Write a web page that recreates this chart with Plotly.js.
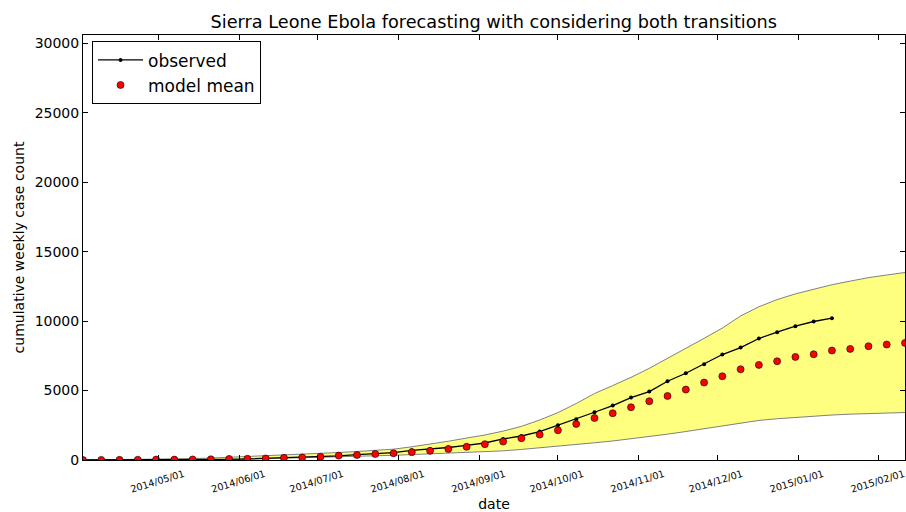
<!DOCTYPE html>
<html>
<head>
<meta charset="utf-8">
<script src="https://cdn.plot.ly/plotly-3.0.1.min.js"></script>
<style>
  html, body { margin: 0; padding: 0; background: #fff; }
  #chart { width: 906px; height: 512px; }
</style>
</head>
<body>
<div id="chart"></div>
<script>
const weeks = [
  '2014-04-02','2014-04-09','2014-04-16','2014-04-23','2014-04-30',
  '2014-05-07','2014-05-14','2014-05-21','2014-05-28',
  '2014-06-04','2014-06-11','2014-06-18','2014-06-25',
  '2014-07-02','2014-07-09','2014-07-16','2014-07-23','2014-07-30',
  '2014-08-06','2014-08-13','2014-08-20','2014-08-27',
  '2014-09-03','2014-09-10','2014-09-17','2014-09-24',
  '2014-10-01','2014-10-08','2014-10-15','2014-10-22','2014-10-29',
  '2014-11-05','2014-11-12','2014-11-19','2014-11-26',
  '2014-12-03','2014-12-10','2014-12-17','2014-12-24','2014-12-31',
  '2015-01-07','2015-01-14','2015-01-21','2015-01-28',
  '2015-02-04','2015-02-11'
];

const observed = [
  0, 0, 0, 0, 0, 0, 16, 30, 50,
  80, 120, 160, 200,
  240, 300, 380, 450, 530,
  700, 780, 900, 1050,
  1225, 1513, 1729, 2046,
  2500, 2932, 3437, 3919, 4496,
  4928, 5670, 6247, 6895,
  7594, 8098, 8747, 9201, 9633,
  9972, 10210
];

const modelMean = [
  0, 5, 10, 20, 30, 30, 40, 50, 80,
  90, 110, 155, 185,
  230, 317, 360, 432, 483,
  565, 660, 793, 950,
  1140, 1326, 1563, 1830,
  2140, 2594, 3026, 3365, 3797,
  4229, 4611, 5072, 5577,
  6031, 6535, 6845, 7111, 7421,
  7616, 7882, 7998, 8192,
  8314, 8430
];

const upperBound = [
  0, 10, 20, 30, 50, 70, 100, 140, 190,
  250, 320, 370, 420,
  480, 540, 610, 690, 780,
  950, 1130, 1350, 1580,
  1800, 2080, 2420, 2880,
  3413, 4063, 4784, 5360, 5950,
  6600, 7300, 8030, 8760,
  9500, 10370, 11030, 11550, 11960,
  12300, 12620, 12880, 13130,
  13320, 13500
];

const lowerBound = [
  0, 0, 0, 0, 5, 10, 15, 25, 40,
  60, 90, 120, 150,
  185, 220, 260, 300, 340,
  390, 440, 500, 540,
  576, 660, 760, 870,
  987, 1110, 1240, 1370, 1520,
  1680, 1860, 2050, 2250,
  2470, 2690, 2850, 2970, 3070,
  3170, 3240, 3300, 3350,
  3390, 3420
];

const yTicks = [0, 5000, 10000, 15000, 20000, 25000, 30000];

const traces = [
  {
    x: weeks, y: lowerBound, type: 'scatter', mode: 'lines',
    line: { color: '#808080', width: 1 }, showlegend: false, hoverinfo: 'skip'
  },
  {
    x: weeks, y: upperBound, type: 'scatter', mode: 'lines',
    fill: 'tonexty', fillcolor: 'rgba(255,255,0,0.5)',
    line: { color: '#808080', width: 1 }, showlegend: false, hoverinfo: 'skip'
  },
  {
    x: weeks.slice(0, observed.length), y: observed, type: 'scatter', mode: 'lines+markers',
    name: 'observed',
    line: { color: '#000000', width: 1.3 },
    marker: { color: '#000000', size: 4 }
  },
  {
    x: weeks, y: modelMean, type: 'scatter', mode: 'markers',
    name: 'model mean', cliponaxis: true,
    marker: { color: '#ff0000', size: 7, line: { color: '#000000', width: 0.6 } }
  }
];

const font = 'DejaVu Sans, sans-serif';

const layout = {
  width: 906, height: 512,
  margin: { l: 83, r: 1, t: 35, b: 52, pad: 0 },
  paper_bgcolor: '#ffffff', plot_bgcolor: '#ffffff',
  font: { family: font, color: '#000000', size: 14 },
  title: {
    text: 'Sierra Leone Ebola forecasting with considering both transitions',
    font: { family: font, size: 17.7, color: '#000000' },
    x: 0.545, xanchor: 'center', y: 0.957, yanchor: 'middle'
  },
  xaxis: {
    type: 'date',
    range: ['2014-04-02', '2015-02-11'],
    tick0: '2014-05-01', dtick: 'M1',
    tickformat: '%Y/%m/%d',
    tickangle: -17,
    tickfont: { family: font, size: 9.7, color: '#000000' },
    ticks: 'inside', ticklen: 5, tickcolor: '#000000', tickwidth: 1,
    showline: true, linecolor: '#000000', linewidth: 1, mirror: 'ticks',
    showgrid: false, zeroline: false,
    ticklabelshift: 25, ticklabelstandoff: 4,
    ticklabeloverflow: 'allow',
    title: { text: 'date', font: { family: font, size: 14, color: '#000000' }, standoff: 8 }
  },
  yaxis: {
    range: [0, 30600],
    tickvals: yTicks,
    ticktext: yTicks.map(String),
    tickfont: { family: font, size: 14, color: '#000000' },
    ticks: 'inside', ticklen: 5, tickcolor: '#000000', tickwidth: 1,
    showline: true, linecolor: '#000000', linewidth: 1, mirror: 'ticks',
    showgrid: false, zeroline: false,
    title: { text: 'cumulative weekly case count', font: { family: font, size: 14, color: '#000000' }, standoff: 6 }
  },
  legend: {
    x: 0.011, y: 0.985, xanchor: 'left', yanchor: 'top',
    traceorder: 'normal',
    bgcolor: '#ffffff', bordercolor: '#000000', borderwidth: 1,
    font: { family: font, size: 17, color: '#000000' },
    itemwidth: 45, tracegroupgap: 0
  },
  showlegend: true
};

Plotly.newPlot('chart', traces, layout, { displayModeBar: false, staticPlot: true });
</script>
</body>
</html>
